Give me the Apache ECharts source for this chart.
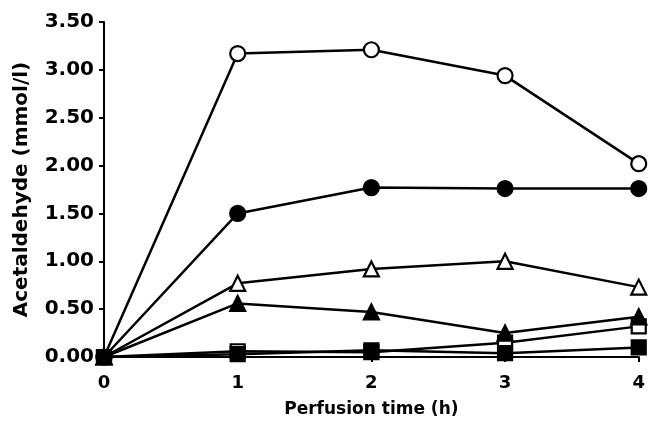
<!DOCTYPE html>
<html><head><meta charset="utf-8">
<script src="https://cdn.jsdelivr.net/npm/echarts@6/dist/echarts.min.js"></script>
<style>html,body{margin:0;padding:0;background:#fff}#c{width:648px;height:425px}</style>
</head><body><div id="c"></div>
<script>
const hours = [0, 1, 2, 3, 4];
const openCircle = [0, 3.17, 3.21, 2.94, 2.02];
const filledCircle = [0, 1.50, 1.77, 1.76, 1.76];
const openTriangle = [0, 0.77, 0.92, 1.00, 0.73];
const filledTriangle = [0, 0.56, 0.47, 0.25, 0.42];
const openSquare = [0, 0.06, 0.05, 0.15, 0.32];
const filledSquare = [0, 0.03, 0.07, 0.04, 0.10];
const yTicks = [0, 0.5, 1, 1.5, 2, 2.5, 3, 3.5];

const FONT = '"DejaVu Sans", sans-serif';
function mk(vals, symbol, filled, size, z) {
  return {
    type: 'line',
    data: hours.map((h, i) => [h, vals[i]]),
    symbol: symbol,
    symbolSize: size,
    showAllSymbol: true,
    lineStyle: { color: '#000', width: 2.5 },
    itemStyle: { color: filled ? '#000' : '#fff', borderColor: '#000', borderWidth: 2.2 },
    emphasis: { disabled: true },
    animation: false,
    clip: false,
    z: z
  };
}
const chart = echarts.init(document.getElementById('c'));
chart.setOption({
  backgroundColor: '#fff',
  animation: false,
  grid: { left: 104, right: 8, top: 22, bottom: 68 },
  xAxis: {
    type: 'value', min: 0, max: 4, interval: 1,
    axisLine: { lineStyle: { color: '#000', width: 2 } },
    axisTick: { show: true, length: 5, lineStyle: { color: '#000', width: 2 } },
    splitLine: { show: false },
    axisLabel: { color: '#000', fontFamily: FONT, fontWeight: 'bold', fontSize: 18, margin: 17 },
    name: 'Perfusion time (h)', nameLocation: 'middle', nameGap: 44,
    nameTextStyle: { color: '#000', fontFamily: FONT, fontWeight: 'bold', fontSize: 17 }
  },
  yAxis: {
    type: 'value', min: 0, max: 3.5, interval: 0.5,
    axisLine: { show: true, lineStyle: { color: '#000', width: 2 } },
    axisTick: { show: true, length: 5, lineStyle: { color: '#000', width: 2 } },
    splitLine: { show: false },
    axisLabel: { color: '#000', fontFamily: FONT, fontWeight: 'bold', fontSize: 20, margin: 10,
      formatter: v => yTicks.includes(v) ? v.toFixed(2) : '' },
    name: 'Acetaldehyde (mmol/l)', nameLocation: 'middle', nameGap: 72,
    nameTextStyle: { color: '#000', fontFamily: FONT, fontWeight: 'bold', fontSize: 20 }
  },
  series: [
    mk(openSquare, 'rect', false, 14, 3),
    mk(filledTriangle, 'triangle', true, 15, 5),
    mk(openTriangle, 'triangle', false, 15, 6),
    mk(filledCircle, 'circle', true, 15, 7),
    mk(openCircle, 'circle', false, 15, 8),
    mk(filledSquare, 'rect', true, 14, 10)
  ]
});
</script></body></html>
